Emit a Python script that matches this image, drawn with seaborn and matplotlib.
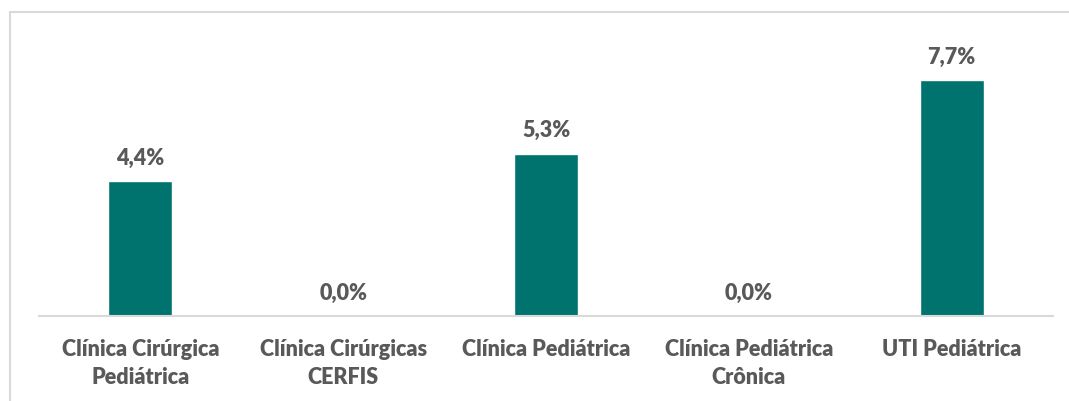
import matplotlib
matplotlib.use("Agg")
import matplotlib.pyplot as plt
import seaborn as sns
import pandas as pd
from matplotlib.patches import Rectangle

categories = [
    "Clínica Cirúrgica\nPediátrica",
    "Clínica Cirúrgicas\nCERFIS",
    "Clínica Pediátrica",
    "Clínica Pediátrica\nCrônica",
    "UTI Pediátrica",
]
values = [4.4, 0.0, 5.3, 0.0, 7.7]

bar_color = "#00736E"
text_color = "#595959"

sns.set_theme(style="white")
plt.rcParams["font.family"] = ["Lato", "DejaVu Sans"]

df = pd.DataFrame({"setor": categories, "taxa": values})

fig = plt.figure(figsize=(10.69, 4.01), dpi=100)
ax = fig.add_axes([39 / 1069, 1 - 316 / 401, 1014 / 1069, 274 / 401])

sns.barplot(data=df, x="setor", y="taxa", color=bar_color, width=0.316,
            saturation=1, ax=ax)

ax.set_ylim(0, 8.95)
ax.set_xlim(-0.5, len(categories) - 0.5)
ax.set_xlabel("")
ax.set_ylabel("")
ax.set_yticks([])
for side in ["top", "left", "right"]:
    ax.spines[side].set_visible(False)
ax.spines["bottom"].set_color("#D9D9D9")
ax.spines["bottom"].set_linewidth(1.5)
ax.tick_params(axis="x", length=0, pad=16.5)
for lbl in ax.get_xticklabels():
    lbl.set_fontsize(15.5)
    lbl.set_fontweight("heavy")
    lbl.set_color(text_color)
    lbl.set_linespacing(1.42)

for i, v in enumerate(values):
    ax.annotate(f"{v:.1f}%".replace(".", ","), xy=(i, v), xytext=(0, 9),
                textcoords="offset points", ha="center", va="bottom",
                fontsize=15.5, fontweight="heavy", color=text_color)

# chart frame
fig.patches.append(Rectangle((9.5 / 1069, -0.1), 1.2, 1.1 - 12.5 / 401,
                             transform=fig.transFigure, fill=False,
                             edgecolor="#D9D9D9", linewidth=1.5))

fig.savefig("out.png", dpi=100)
